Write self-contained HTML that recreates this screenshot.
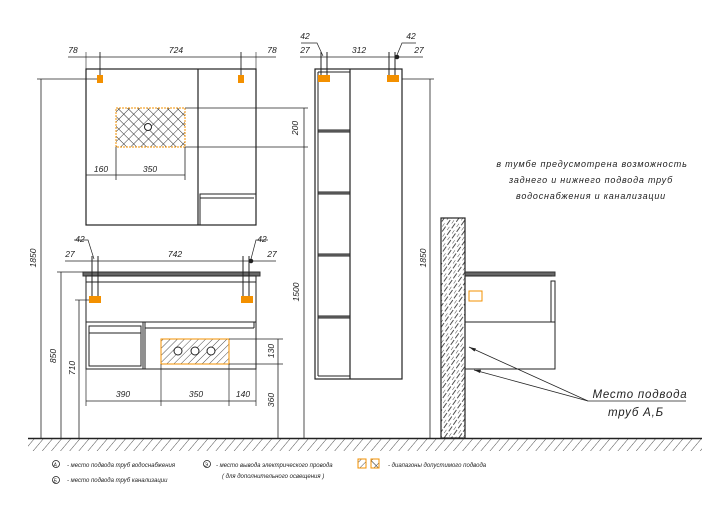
<!DOCTYPE html>
<html><head><meta charset="utf-8"><style>
html,body{margin:0;padding:0;background:#fff;}
svg{display:block;}
text{font-family:"Liberation Sans","DejaVu Sans",sans-serif;font-style:italic;fill:#222;}
</style></head><body>
<svg width="720" height="518" viewBox="0 0 720 518" xmlns="http://www.w3.org/2000/svg">
<defs>
<pattern id="h" width="5" height="5" patternUnits="userSpaceOnUse" patternTransform="rotate(45)"><line x1="0" y1="0" x2="0" y2="5" stroke="#222" stroke-width="0.8"/></pattern>
<pattern id="g" width="7" height="7" patternUnits="userSpaceOnUse" patternTransform="rotate(40)"><line x1="0" y1="0" x2="0" y2="7" stroke="#222" stroke-width="0.8"/></pattern>
<pattern id="x" width="7" height="7" patternUnits="userSpaceOnUse" patternTransform="rotate(45)"><path d="M0 0V7M0 0H7" stroke="#222" stroke-width="0.9" fill="none"/></pattern>
<pattern id="w" width="6" height="8" patternUnits="userSpaceOnUse" patternTransform="rotate(35)"><line x1="0" y1="0" x2="0" y2="4" stroke="#222" stroke-width="0.8"/><line x1="3" y1="2" x2="3" y2="8" stroke="#222" stroke-width="0.8"/></pattern>
</defs>
<g stroke="#222" fill="none" stroke-width="1">
<rect x="28" y="438" width="674" height="13" fill="url(#g)" stroke="none"/>
<line x1="28" y1="438.5" x2="702" y2="438.5" stroke-width="1.4"/>
<rect x="86" y="69" width="170" height="156" stroke-width="1.2"/>
<line x1="198" y1="69" x2="198" y2="225" stroke-width="1.2"/>
<rect x="200" y="194" width="56" height="31"/>
<line x1="200" y1="198" x2="254" y2="198"/>
<rect x="116" y="108" width="69" height="39" fill="url(#x)" stroke="#f39000" stroke-dasharray="2 1"/>
<circle cx="148" cy="127" r="3.5" fill="#fff"/>
<line x1="68" y1="57" x2="276" y2="57" stroke-width="0.8"/>
<line x1="86" y1="52" x2="86" y2="69" stroke-width="0.6"/><line x1="100" y1="52" x2="100" y2="80" stroke-width="0.9"/>
<line x1="241" y1="52" x2="241" y2="80" stroke-width="0.9"/><line x1="256" y1="52" x2="256" y2="69" stroke-width="0.6"/>
<line x1="185" y1="108" x2="308" y2="108" stroke-width="0.8"/><line x1="185" y1="147" x2="308" y2="147" stroke-width="0.8"/>
<line x1="304" y1="108" x2="304" y2="438" stroke-width="0.8"/>
<line x1="86" y1="175" x2="185" y2="175" stroke-width="0.8"/><line x1="116" y1="147" x2="116" y2="180" stroke-width="0.8"/><line x1="185" y1="147" x2="185" y2="180" stroke-width="0.8"/>
<line x1="37" y1="79" x2="100" y2="79" stroke-width="0.8"/><line x1="41" y1="79" x2="41" y2="438" stroke-width="0.8"/>
<rect x="83" y="272" width="177" height="4" fill="#666" stroke="#333"/>
<rect x="86" y="276" width="170" height="46"/>
<line x1="86" y1="282" x2="256" y2="282"/>
<rect x="86" y="322" width="170" height="47"/>
<rect x="89" y="326" width="52" height="40"/><line x1="89" y1="333" x2="141" y2="333"/>
<line x1="143" y1="322" x2="143" y2="369"/><line x1="145" y1="322" x2="145" y2="369"/>
<line x1="145" y1="328" x2="254" y2="328"/><line x1="254" y1="322" x2="254" y2="328"/>
<rect x="161" y="339" width="68" height="25" fill="url(#h)" stroke="#f39000"/>
<circle cx="178" cy="351" r="4" fill="#fff"/><circle cx="195" cy="351" r="4" fill="#fff"/><circle cx="211" cy="351" r="4" fill="#fff"/>
<line x1="65" y1="261" x2="276" y2="261" stroke-width="0.8"/>
<line x1="92" y1="256" x2="92" y2="300"/><line x1="98" y1="256" x2="98" y2="300"/>
<line x1="243" y1="256" x2="243" y2="300"/><line x1="249" y1="256" x2="249" y2="300"/>
<polyline points="74,240 88,240 94,259" stroke-width="0.7"/><polyline points="268,240 256,240 251,259" stroke-width="0.7"/>
<circle cx="251" cy="261" r="1.8" fill="#222"/>
<line x1="86" y1="401" x2="256" y2="401" stroke-width="0.8"/>
<line x1="86" y1="369" x2="86" y2="406" stroke-width="0.7"/><line x1="161" y1="364" x2="161" y2="406" stroke-width="0.7"/><line x1="229" y1="364" x2="229" y2="406" stroke-width="0.7"/><line x1="256" y1="369" x2="256" y2="406" stroke-width="0.7"/>
<line x1="229" y1="339" x2="283" y2="339" stroke-width="0.7"/><line x1="229" y1="364" x2="283" y2="364" stroke-width="0.7"/>
<line x1="278" y1="339" x2="278" y2="438" stroke-width="0.8"/>
<line x1="57" y1="272" x2="83" y2="272" stroke-width="0.7"/><line x1="61" y1="272" x2="61" y2="438" stroke-width="0.8"/>
<line x1="75" y1="300" x2="89" y2="300" stroke-width="0.7"/><line x1="79" y1="300" x2="79" y2="438" stroke-width="0.8"/>
<rect x="315" y="69" width="87" height="310" stroke-width="1.2"/>
<line x1="318" y1="72" x2="318" y2="376"/><line x1="318" y1="72" x2="350" y2="72"/><line x1="318" y1="376" x2="350" y2="376"/>
<line x1="350" y1="69" x2="350" y2="379" stroke-width="1.2"/>
<g fill="#888"><rect x="318" y="130" width="32" height="2"/><rect x="318" y="192" width="32" height="2"/><rect x="318" y="254" width="32" height="2"/><rect x="318" y="316" width="32" height="2"/></g>
<line x1="300" y1="57" x2="423" y2="57" stroke-width="0.8"/>
<line x1="321" y1="52" x2="321" y2="80"/><line x1="327" y1="52" x2="327" y2="80"/>
<line x1="389" y1="52" x2="389" y2="80"/><line x1="395" y1="52" x2="395" y2="80"/>
<polyline points="301,43 317,43 323,56" stroke-width="0.7"/><polyline points="416,43 402,43 397,55" stroke-width="0.7"/>
<circle cx="397" cy="57" r="1.8" fill="#222"/>
<line x1="402" y1="79" x2="434" y2="79" stroke-width="0.8"/><line x1="430" y1="79" x2="430" y2="438" stroke-width="0.8"/>
<rect x="441" y="218" width="24" height="220" fill="url(#w)" stroke-width="1.2"/>
<rect x="465" y="272" width="90" height="4" fill="#666" stroke="#333"/>
<line x1="465" y1="276" x2="552" y2="276"/>
<rect x="551" y="281" width="4" height="41"/>
<line x1="465" y1="322" x2="555" y2="322"/>
<polyline points="555,322 555,369 465,369"/>
<rect x="469" y="291" width="13" height="10" stroke="#f39000"/>
<polyline points="469,347 588,401 686,401" stroke-width="0.8"/>
<line x1="474" y1="370" x2="588" y2="401" stroke-width="0.8"/>
<path d="M469,347 l7,1.5 l-1.5,3z M474,370 l7,-0.2 l-1,3.2z" fill="#222" stroke="none"/>
</g>
<g fill="#f39000">
<rect x="97" y="75" width="6" height="8"/><rect x="238" y="75" width="6" height="8"/>
<rect x="89" y="296" width="12" height="7"/><rect x="241" y="296" width="12" height="7"/>
<rect x="318" y="75" width="12" height="7"/><rect x="387" y="75" width="12" height="7"/>
</g>
<g font-size="8.5" text-anchor="middle">
<text x="73" y="53">78</text><text x="176" y="53">724</text><text x="272" y="53">78</text>
<text x="101" y="172">160</text><text x="150" y="172">350</text>
<text x="298" y="128" transform="rotate(-90 298 128)">200</text>
<text x="36" y="258" transform="rotate(-90 36 258)">1850</text>
<text x="80" y="242">42</text><text x="70" y="257">27</text><text x="175" y="257">742</text><text x="262" y="242">42</text><text x="272" y="257">27</text>
<text x="56" y="356" transform="rotate(-90 56 356)">850</text>
<text x="75" y="368" transform="rotate(-90 75 368)">710</text>
<text x="123" y="397">390</text><text x="196" y="397">350</text><text x="243" y="397">140</text>
<text x="274" y="351" transform="rotate(-90 274 351)">130</text>
<text x="274" y="400" transform="rotate(-90 274 400)">360</text>
<text x="305" y="39">42</text><text x="305" y="53">27</text><text x="359" y="53">312</text><text x="411" y="39">42</text><text x="419" y="53">27</text>
<text x="299" y="292" transform="rotate(-90 299 292)">1500</text>
<text x="426" y="258" transform="rotate(-90 426 258)">1850</text>
</g>
<g font-size="9" text-anchor="middle" letter-spacing="0.8">
<text x="592" y="167">в тумбе предусмотрена возможность</text>
<text x="591" y="183">заднего и нижнего подвода труб</text>
<text x="591" y="199">водоснабжения и канализации</text>
</g>
<g font-size="11.5" text-anchor="middle" letter-spacing="0.8">
<text x="640" y="398">Место подвода</text><text x="636" y="416">труб А,Б</text>
</g>
<g font-size="6">
<g fill="none" stroke="#222" stroke-width="0.8"><circle cx="56" cy="464" r="3.5"/><circle cx="56" cy="480" r="3.5"/><circle cx="207" cy="464" r="3.5"/></g>
<text x="53.5" y="466.5" font-size="5">А</text><text x="53.5" y="482.5" font-size="5">Б</text><text x="204.5" y="466.5" font-size="5">Э</text>
<text x="67" y="467">- место подвода труб водоснабжения</text>
<text x="67" y="482">- место подвода труб канализации</text>
<text x="216" y="467">- место вывода электрического провода</text>
<text x="222" y="478">( для дополнительного освещения )</text>
<text x="388" y="467">- диапазоны допустимого подвода</text>
</g>
<rect x="358" y="459" width="8" height="9" fill="url(#h)" stroke="#f39000"/>
<rect x="371" y="459" width="8" height="9" fill="url(#x)" stroke="#f39000"/>
</svg>
</body></html>
